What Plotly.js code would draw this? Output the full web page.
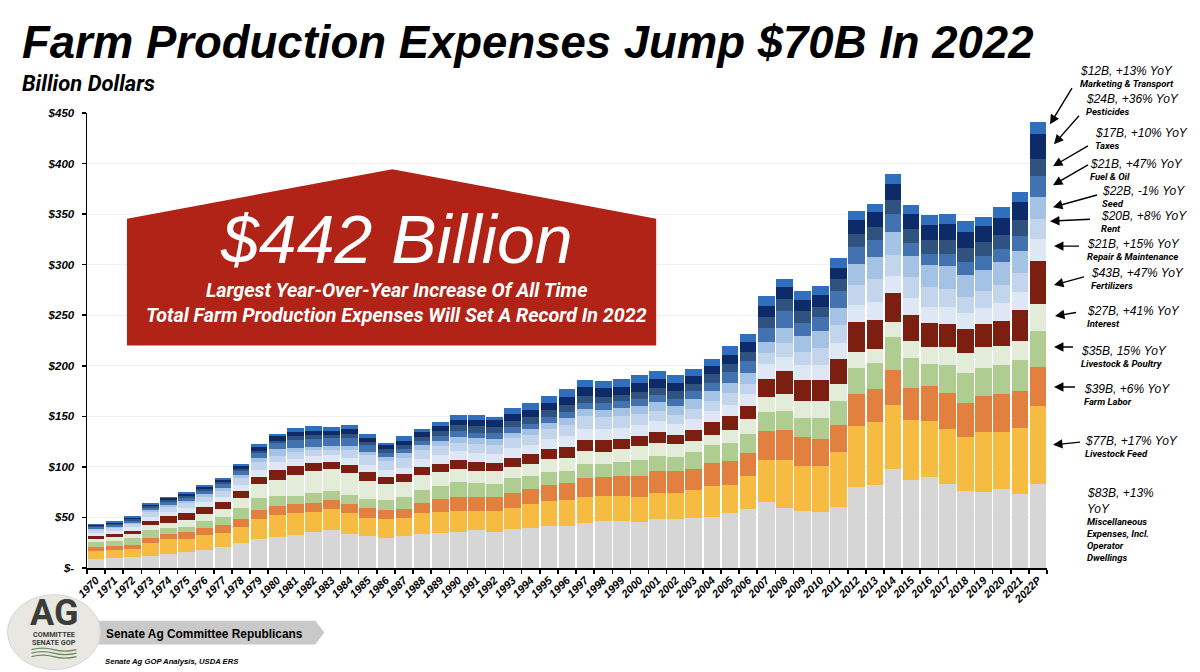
<!DOCTYPE html>
<html><head><meta charset="utf-8">
<script src="https://cdn.plot.ly/plotly-3.0.1.min.js"></script>
<style>html,body{margin:0;padding:0;background:#fff}#c{width:1200px;height:672px}</style>
</head><body><div id="c"></div>
<script>
const years=["1970","1971","1972","1973","1974","1975","1976","1977","1978","1979","1980","1981","1982","1983","1984","1985","1986","1987","1988","1989","1990","1991","1992","1993","1994","1995","1996","1997","1998","1999","2000","2001","2002","2003","2004","2005","2006","2007","2008","2009","2010","2011","2012","2013","2014","2015","2016","2017","2018","2019","2020","2021","2022P"];
const misc=[9,10,10.5,11.5,14,16,18,21,25,28.6,31,33,36,38,34,32,30,32,33.5,34.5,35.5,37.5,36,38.5,40,42,42,44.5,46.5,46.7,45.7,48.7,48.7,49,50.7,54,58,65,59.6,56,55,60,80,82,98,87,90,82.6,75.7,75.4,77.7,73,83];
const feed=[8,8,8.5,13.5,15,13,15,14,15.5,19.4,21,21,19,20.5,20,17.5,18,17,20.5,21,21,19,20.5,21,23,24.5,25.5,26,24.5,24.3,24.3,25,25,27.7,30.3,28,32.5,42,47.4,45,45.4,55,60.5,62.5,63.6,59,55.5,54.4,54,59.2,56.9,65.6,77];
const labor=[4,4,4,5,5,7,7,8,7.5,9,9,9,9.5,9,9.5,9.5,9,9.5,10.5,12.5,14,14,14,15,15,15.5,17,18.5,19,19.5,20.5,22.3,22.3,21.7,23,24,23.5,28.6,29,29,27.6,26.5,32,32.5,34.4,32,34.5,36.5,33.9,35.4,37.4,36.4,39];
const livestock=[5,5,7,8,5.5,5,6,7,11,12.5,10.5,8.5,9.5,8.5,9,9.5,10,11.5,12.5,13,14.5,13.5,13,14.5,13,13,11.5,13.5,12.5,14,16.1,14.6,14,16.6,18,18,18.6,19.1,19,18,20,24,25,25.4,32,30,21.5,27.5,29,28,29,30.7,35];
const interest=[3,4,3.5,5,5.5,6,7,8,10.5,13.1,15.5,20,21.5,21.5,21.5,18,16,15.5,15,14,13,12,12,10.5,12,12.5,12.5,13,12.5,13.5,14.4,13.4,13,11,10,12.6,14.4,14.8,17,17.5,17,16.2,16.5,14.6,15,16.5,17.5,18,20.4,21,19,19.3,27];
const fertilizers=[3,3,3.5,3,6,7,7,7,6.5,7.4,10,9.5,8.5,7.5,8,8.5,7,7,8,8,8.6,9,8.5,9.5,9.5,10,11.5,11.2,11.7,10,10,10.6,9,10,12,13.4,13,17.5,22.5,20.5,21,25,29,28.5,28.5,26,23,22.6,23.7,22,24.6,29.8,43];
const repair=[2.8,2.8,3.2,4.3,4.6,5,5.3,5.6,6.3,6.9,7.6,6.6,6.6,6.3,6.6,6.6,6.5,6.6,7.6,8.6,9.2,8.9,8.9,9.2,8.9,9.9,10.5,10.5,10.5,10.2,10.9,11.2,10.2,10.9,11.2,11.5,12.5,14.8,14.5,14.5,15.1,15.8,16.8,17.1,17.1,16.5,16.5,16.5,15.5,16.1,17.8,18.4,21];
const rent=[2.9,2.9,3.3,4.6,4.9,5.2,5.3,5.8,6.5,8.2,6.6,7.6,5.9,5.9,8.2,10.5,9,9.9,9.2,9.2,8.2,9.2,9.2,10.2,10.2,10.2,11.2,13.2,12.5,11.8,10.2,9.5,9.2,10.5,10.2,11.5,9.9,11.2,13.8,13.5,16.8,17.8,20.4,23.4,20.7,20.4,19.7,17.8,15.5,16.8,17.4,18.8,20];
const seed=[1.2,1.2,1.4,2,2.1,2.3,2.4,2.6,2.9,3.3,6.6,3.3,3.3,3.9,3.9,2.6,4.5,4.9,4.6,4.9,5.6,5.3,5.6,5.3,5.9,6.3,6.6,6.9,6.9,8.2,8.2,8.6,9.2,9.9,9.9,9.9,10.9,10.9,14.5,15.5,16.1,17.1,20.7,21.4,22.7,20.7,21,22.4,21.7,21,23,21.7,22];
const fuel=[1.7,1.7,2,2.5,2.7,3,3.2,3.6,4.2,4.9,5.9,8.2,7.9,7.6,8.2,7.2,3.5,3.6,4.3,4.9,5.9,5.6,5.6,5.9,5.3,5.6,5.9,6.3,6.3,6.9,7.2,7.2,6.9,7.6,7.9,10.5,11.2,13.5,16.8,12.8,14.2,16.5,16.8,17.4,17.8,13.8,11.8,12.5,13.5,13.2,12.5,14.2,21];
const taxes=[1,1,1.2,1.5,1.7,1.8,1.9,2.1,2.3,2.3,2.3,4,3.6,2.6,3.6,2.3,4.5,4.3,3.9,4.9,5.9,6.6,6.6,5.9,6.6,6.3,6.9,6.3,6.6,5.6,6.9,6.9,7.6,6.6,8.2,8.6,9.2,11.2,12.2,11.5,9.5,11.8,12.5,12.5,13.8,13.2,13.5,13.5,13.2,14.8,14.5,15.8,17];
const pesticides=[1.2,1.2,1.5,1.8,2,2,2.2,2.4,2.8,4.3,4.3,4.3,4.6,4.6,4.9,4.3,3.5,4.3,4.6,4.9,5.3,5.6,6.3,6.9,6.9,7.6,8.2,9.2,8.6,8.6,8.6,8.9,8.2,8.2,8.2,8.6,9.5,10.5,11.2,11.2,12.2,11.5,13.8,14.5,15.8,14.8,15.1,15.8,15.8,15.1,16.5,17.8,24];
const marketing=[1.2,1.2,1.4,1.8,1.5,1.7,1.7,1.9,1.9,2.6,2.6,3.6,4.3,3.6,3.9,3.6,2.5,4.3,3.6,4,4.3,4.9,3.6,5.6,6.6,6.9,7.6,7.2,6.9,7.2,7.6,7.9,7.6,7.2,7.2,8.6,8.6,9.9,8.2,8.9,9.2,9.2,9.2,7.9,10.5,8.9,9.9,9.9,11.5,9.2,10.9,10.5,12];

const seriesNames=["Miscellaneous Expenses, Incl. Operator Dwellings","Livestock Feed","Farm Labor","Livestock & Poultry","Interest","Fertilizers","Repair & Maintenance","Rent","Seed","Fuel & Oil","Taxes","Pesticides","Marketing & Transport"];
const seriesValues=[misc,feed,labor,livestock,interest,fertilizers,repair,rent,seed,fuel,taxes,pesticides,marketing];
const seriesColors=["#d6d6d6","#f6bc41","#e2813f","#afcd90","#e3ecd8","#7c1f10","#dee8f4","#c3d5ec","#a4c2e3","#4272b0","#30527f","#0d2a69","#2f6fbd"];

const yTickVals=[0,50,100,150,200,250,300,350,400,450];
const yTickText=["$-","$50","$100","$150","$200","$250","$300","$350","$400","$450"];

const calloutHeads=["$12B, +13% YoY","$24B, +36% YoY","$17B, +10% YoY","$21B, +47% YoY","$22B, -1% YoY","$20B, +8% YoY","$21B, +15% YoY","$43B, +47% YoY","$27B, +41% YoY","$35B, 15% YoY","$39B, +6% YoY","$77B, +17% YoY"];
const calloutSubs=["Marketing & Transport","Pesticides","Taxes","Fuel & Oil","Seed","Rent","Repair & Maintenance","Fertilizers","Interest","Livestock & Poultry","Farm Labor","Livestock Feed"];
const calloutPos=[[1081,71],[1087,99],[1096,133],[1091,164],[1103,191],[1102,216],[1088,244],[1092,273],[1088,311],[1082,351],[1085,389],[1086,441]];
const arrowPos=[[1075,83,1050,124],[1082,112,1054,144],[1091,144,1053,166],[1091,163,1053,185],[1100,194,1053,207],[1093,219,1050,221],[1082,246,1054,246],[1087,276,1054,285],[1079,312,1055,316],[1076,347,1054,347],[1078,387,1054,387],[1083,442,1053,445]];

const W=1200,H=672,ML=86.5,MR=153,MT=112.7,MB=103.7;
const PW=W-ML-MR,PH=H-MT-MB;
const px=x=>(x-ML)/PW, py=y=>1-(y-MT)/PH;
const sans='"Liberation Sans", Arial, sans-serif';
const cond='Roboto, "Liberation Sans", sans-serif';
const txt=(t,x,y,o={})=>Object.assign({text:t,xref:'paper',yref:'paper',x:px(o.xanchor==='center'?x:x-2),y:py(y),xanchor:'left',yanchor:'middle',showarrow:false,align:'left',borderpad:0},o);
const I=s=>'<b><i>'+s+'</i></b>';

const annotations=[
 txt(I('Farm Production Expenses Jump $70B In 2022'),22,42,{font:{family:sans,size:45.5,color:'#000'}}),
 txt(I('Billion Dollars'),22,83,{font:{family:cond,size:22,color:'#000'}}),
 txt('<i>$442 Billion</i>',396,239,{xanchor:'center',font:{family:sans,size:68,color:'#fff'}}),
 txt(I('Largest Year-Over-Year Increase Of All Time'),396,290,{xanchor:'center',font:{family:cond,size:19.7,color:'#fff'}}),
 txt(I('Total Farm Production Expenses Will Set A Record In 2022'),396,315,{xanchor:'center',font:{family:cond,size:19.7,color:'#fff'}}),
 txt('<b>Senate Ag Committee Republicans</b>',107,634,{font:{family:sans,size:11.9,color:'#000'}}),
 txt(I('Senate Ag GOP Analysis, USDA ERS'),106,662,{font:{family:sans,size:7.7,color:'#000'}}),
 txt('<b>AG</b>',53,613,{xanchor:'center',font:{family:cond,size:36,color:'#3a3d38'}}),
 txt('<b>COMMITTEE</b>',53,635,{xanchor:'center',font:{family:cond,size:7.3,color:'#3a3d38'}}),
 txt('<b>SENATE GOP</b>',53,643,{xanchor:'center',font:{family:cond,size:7.3,color:'#3a3d38'}})
];
calloutHeads.forEach((h,i)=>{
  const [x,y]=calloutPos[i];
  annotations.push(txt('<i>'+h+'</i>',x,y,{font:{family:sans,size:12,color:'#000'}}));
  annotations.push(txt(I(calloutSubs[i]),x,y+12.5,{font:{family:cond,size:9.5,color:'#000'}}));
  const [tx,ty,hx,hy]=arrowPos[i];
  annotations.push({text:' ',xref:'paper',yref:'paper',x:px(hx),y:py(hy),axref:'pixel',ayref:'pixel',ax:tx-hx,ay:ty-hy,showarrow:true,arrowhead:2,arrowsize:1.35,arrowwidth:1.4,arrowcolor:'#000'});
});
[['<i>$83B, +13%</i>',493,12],['<i>YoY</i>',509,12],['<b><i>Miscellaneous</i></b>',522,9.5],['<b><i>Expenses, Incl.</i></b>',533.5,9.5],['<b><i>Operator</i></b>',546,9.5],['<b><i>Dwellings</i></b>',557.5,9.5]].forEach(([t,y,s])=>{
  annotations.push(txt(t,1088,y,{font:{family:s===12?sans:cond,size:s,color:'#000'}}));
});

const poly=pts=>'M'+pts.map(p=>px(p[0])+','+py(p[1])).join(' L')+' Z';
const wave=(y,c)=>({type:'path',xref:'paper',yref:'paper',path:'M'+px(31)+','+py(y)+' Q'+px(42)+','+py(y-c)+' '+px(53)+','+py(y)+' T'+px(76)+','+py(y),line:{color:'#6f8a5f',width:1.3}});
const shapes=[
 {type:'path',xref:'paper',yref:'paper',path:poly([[126.5,218.5],[392,169],[656,218.5],[656,345.5],[126.5,345.5]]),fillcolor:'#b22317',line:{width:0},layer:'above'},
 {type:'path',xref:'paper',yref:'paper',path:poly([[90,621],[315,621],[324,633],[315,645],[90,645]]),fillcolor:'#c9c9c9',line:{width:0},layer:'below'},
 {type:'circle',xref:'paper',yref:'paper',x0:px(7),x1:px(100),y0:py(670),y1:py(595),fillcolor:'#e8e7e1',line:{color:'#d6d6d2',width:1},layer:'below'},
 wave(650,3),wave(653.5,3),wave(657,3)
];

const traces=seriesValues.map((v,i)=>({type:'bar',name:seriesNames[i],x:years,y:v,marker:{color:seriesColors[i],line:{width:0}}}));

const layout={
 width:W,height:H,autosize:false,showlegend:false,barmode:'stack',bargap:0.08,
 paper_bgcolor:'#fff',plot_bgcolor:'#fff',
 margin:{l:ML,r:MR,t:MT,b:MB,pad:0},
 xaxis:{type:'category',categoryorder:'array',categoryarray:years,tickson:'boundaries',ticks:'outside',ticklen:4,tickwidth:1.5,tickcolor:'#000',tickangle:-45,
   showline:true,linecolor:'#000',linewidth:1.5,showgrid:false,automargin:false,
   tickfont:{family:sans,size:11,color:'#000',weight:700,style:'italic'}},
 yaxis:{range:[0,450],tickmode:'array',tickvals:yTickVals,ticktext:yTickText,ticks:'outside',ticklen:4,tickwidth:1.5,tickcolor:'#000',ticklabelstandoff:5,
   showline:true,linecolor:'#000',linewidth:1.5,showgrid:true,gridcolor:'#f0f0f0',gridwidth:1,zeroline:false,automargin:false,
   tickfont:{family:sans,size:11.5,color:'#000',weight:700,style:'italic'}},
 annotations:annotations,shapes:shapes
};
Plotly.newPlot('c',traces,layout,{displayModeBar:false,staticPlot:true});
</script></body></html>
